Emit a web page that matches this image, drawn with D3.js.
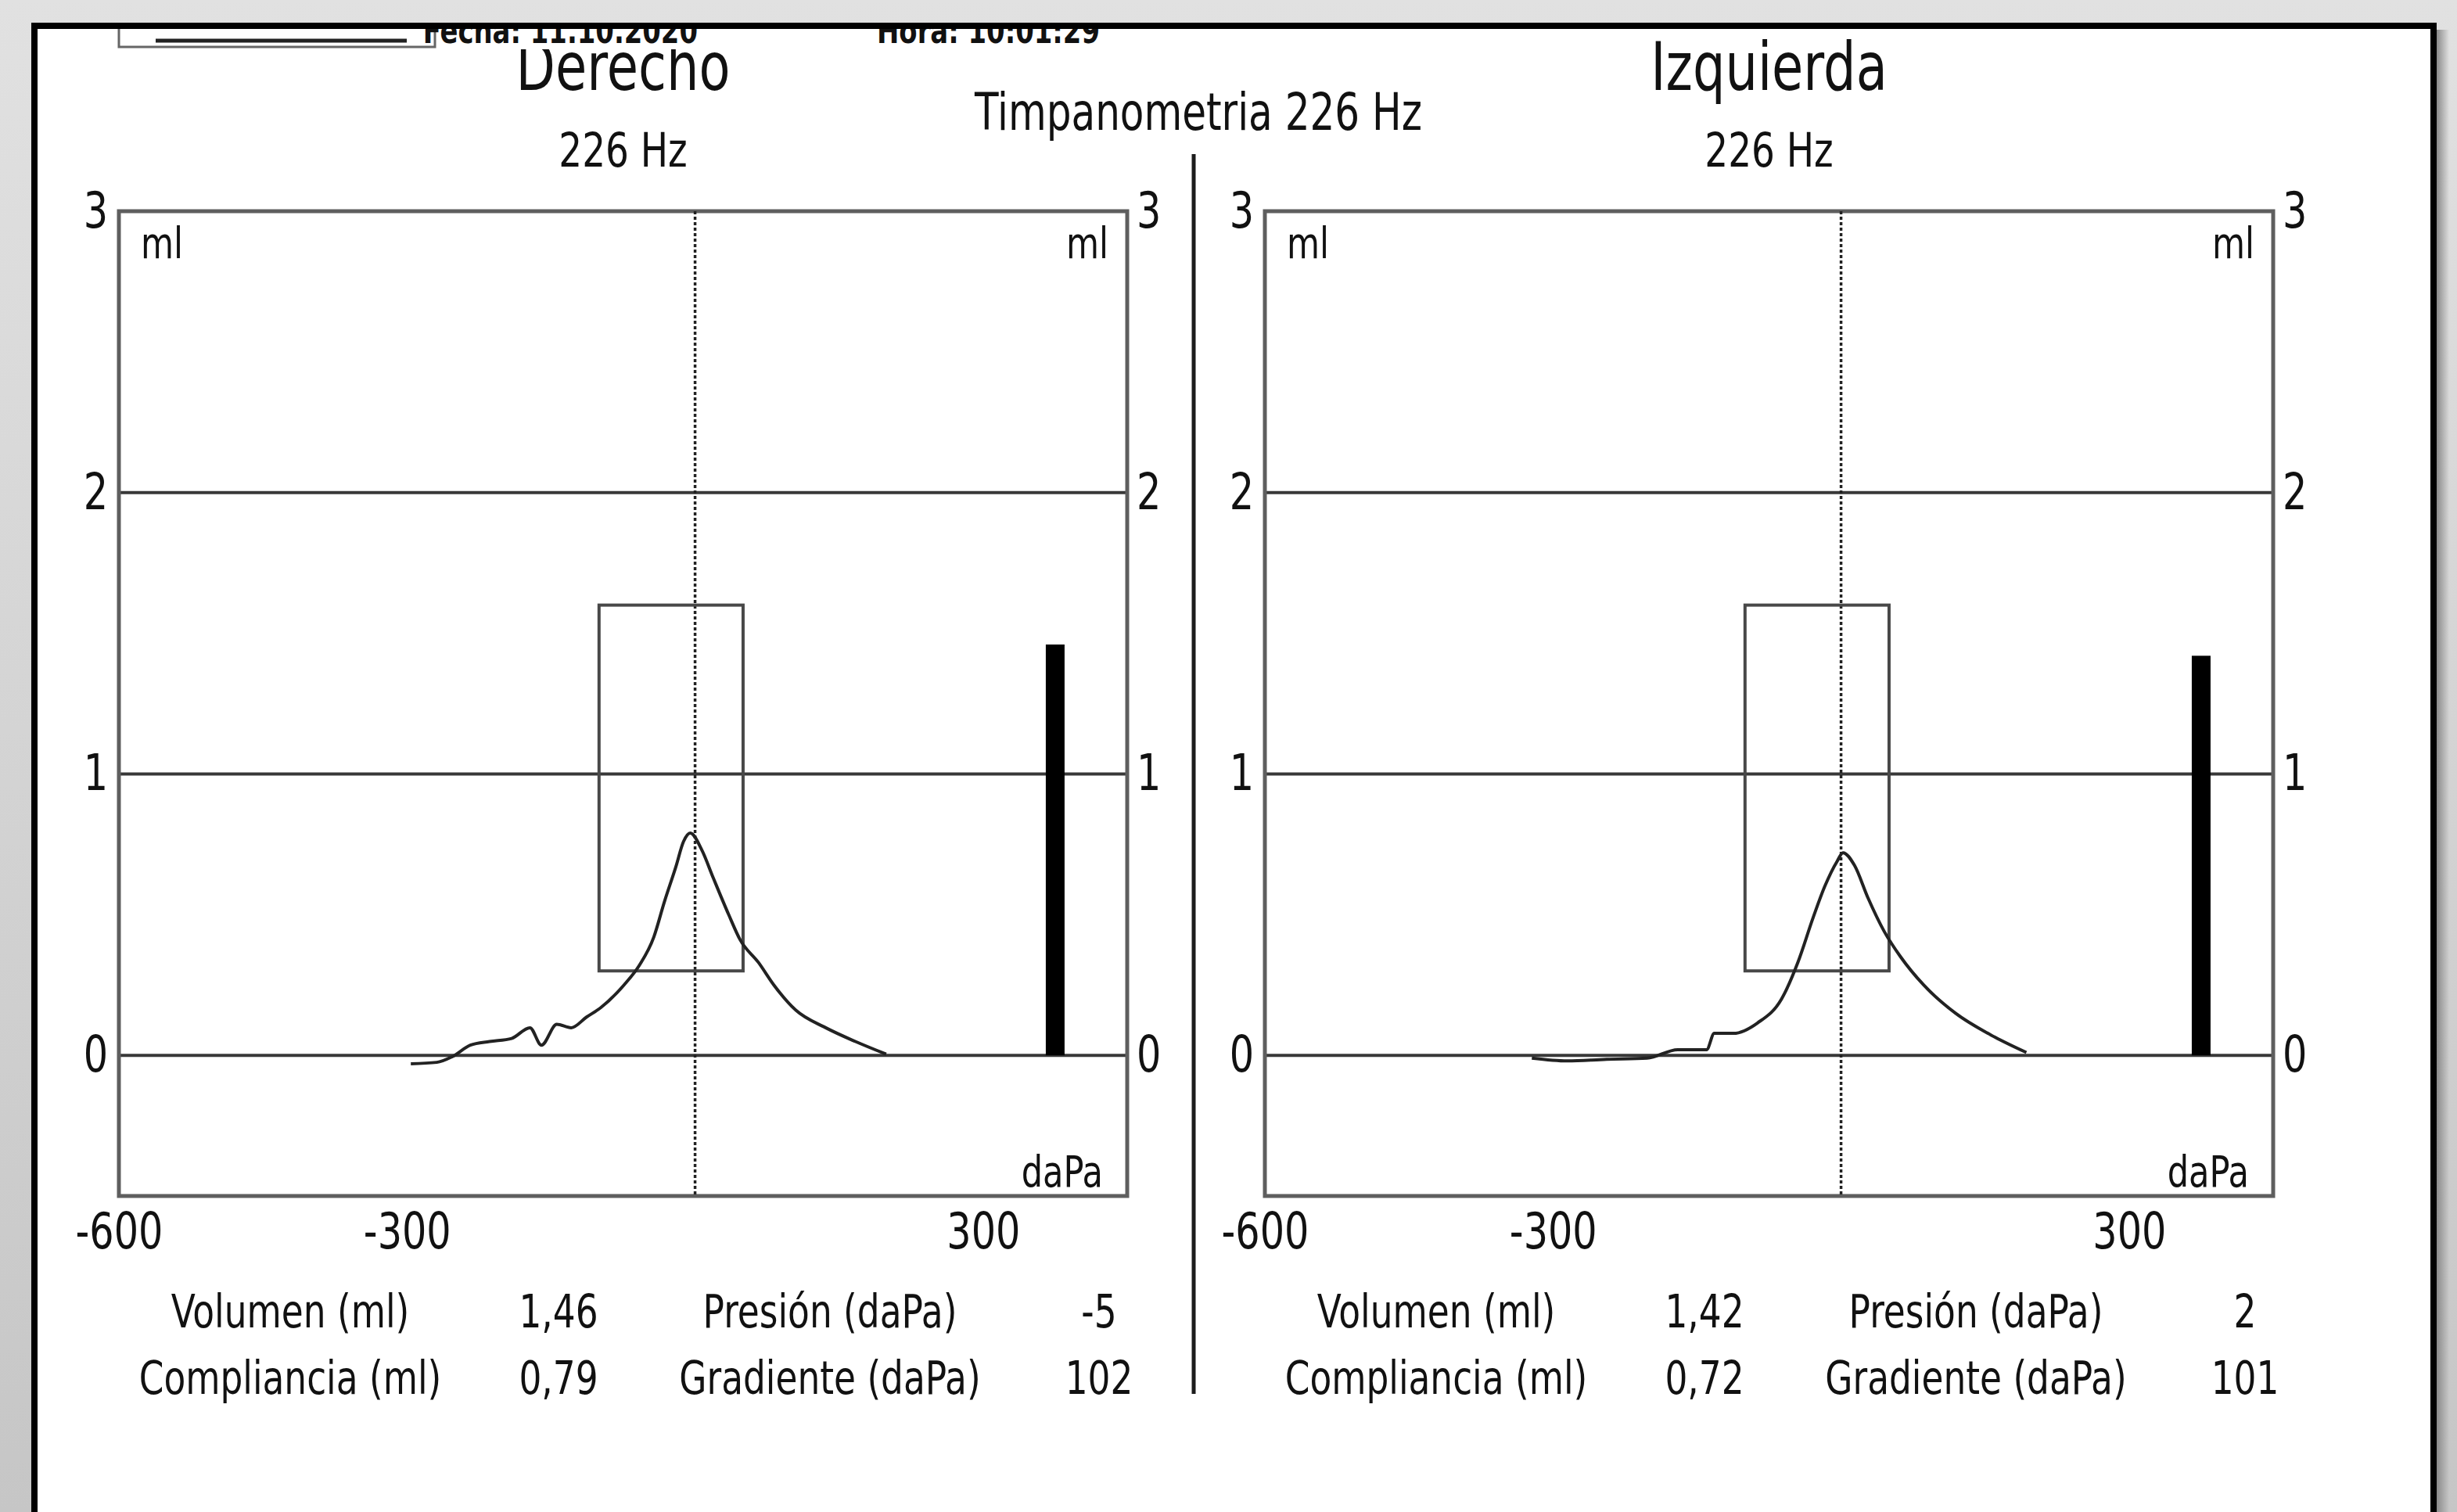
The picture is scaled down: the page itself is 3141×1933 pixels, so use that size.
<!DOCTYPE html>
<html>
<head>
<meta charset="utf-8">
<script src="https://cdn.jsdelivr.net/npm/d3@7"></script>
<style>
  html, body { margin: 0; padding: 0; background: #d8d8d8; }
  svg { display: block; }
  text { font-family: 'DejaVu Sans', Verdana, sans-serif; fill: #111; }
</style>
</head>
<body>
<svg id="chart"></svg>
<script>
// ears, left panel = Derecho, right panel = Izquierda
const ears = ['Derecho', 'Izquierda']
const probeTone = '226 Hz'
const reportTitle = 'Timpanometria 226 Hz'

// tympanogram traces (daPa, ml)
const derechoPressure = [-296, -269, -253, -234, -214, -191, -172, -160, -144, -129, -113, -98, -74, -58, -43, -32, -20, -12, -5, 7, 19, 35, 47, 66, 82, 105, 136, 167, 199]
const derechoCompliance = [-0.03, -0.025, -0.005, 0.036, 0.049, 0.06, 0.098, 0.036, 0.11, 0.098, 0.136, 0.17, 0.25, 0.32, 0.42, 0.545, 0.67, 0.76, 0.79, 0.73, 0.63, 0.5, 0.41, 0.33, 0.25, 0.16, 0.098, 0.049, 0.004]
const izquierdaPressure = [-322, -285, -244, -202, -170, -140, -132, -112, -87, -62, -45, -29, -17, -4, 2, 14, 28, 45, 62, 86, 119, 160, 193]
const izquierdaCompliance = [-0.01, -0.02, -0.014, -0.01, 0.02, 0.02, 0.078, 0.078, 0.115, 0.2, 0.33, 0.49, 0.6, 0.69, 0.72, 0.675, 0.56, 0.44, 0.35, 0.25, 0.15, 0.065, 0.01]

// results
const volume = [1.46, 1.42]
const peakCompliance = [0.79, 0.72]
const peakPressure = [-5, 2]
const gradient = [102, 101]

// normal range box
const normalPressure = [-100, 50]
const normalCompliance = [0.3, 1.6]

// axes
const pressureDomain = [-600, 450]
const complianceDomain = [-0.5, 3]
const xTickValues = [-600, -300, 300]
const yTickValues = [0, 1, 2, 3]
const gridValues = [0, 1, 2]

const statLabelsA = ['Volumen (ml)', 'Compliancia (ml)']
const statLabelsB = ['Presión (daPa)', 'Gradiente (daPa)']

const W = 3141
const H = 1933
const SX = 0.77 // scan text is squeezed horizontally

const svg = d3.select('#chart').attr('width', W).attr('height', H)

const defs = svg.append('defs')
const bg = defs.append('linearGradient').attr('id', 'bg').attr('x1', 0).attr('y1', 0).attr('x2', 0).attr('y2', 1)
bg.append('stop').attr('offset', '0%').attr('stop-color', '#e1e1e1')
bg.append('stop').attr('offset', '100%').attr('stop-color', '#c6c6c6')
const shade = defs.append('linearGradient').attr('id', 'shade').attr('x1', 0).attr('y1', 0).attr('x2', 1).attr('y2', 0)
shade.append('stop').attr('offset', '0%').attr('stop-color', '#8a8a8a')
shade.append('stop').attr('offset', '100%').attr('stop-color', '#8a8a8a').attr('stop-opacity', 0)

defs.append('clipPath').attr('id', 'pageClip')
  .append('rect').attr('x', 48).attr('y', 37).attr('width', 3059).attr('height', 2000)
defs.append('clipPath').attr('id', 'titleClip')
  .append('rect').attr('x', 0).attr('y', 63).attr('width', 1500).attr('height', 200)

svg.append('rect').attr('width', W).attr('height', H).attr('fill', 'url(#bg)')
svg.append('rect').attr('x', 3115).attr('y', 38).attr('width', 16).attr('height', H).attr('fill', 'url(#shade)')
svg.append('rect')
  .attr('x', 44).attr('y', 33).attr('width', 3067).attr('height', 2000)
  .attr('fill', '#fff').attr('stroke', '#000').attr('stroke-width', 8)

const label = (sel, str, x, y, size, anchor) => sel.append('text')
  .attr('transform', `translate(${x},${y}) scale(${SX},1)`)
  .attr('font-size', size)
  .attr('text-anchor', anchor || 'start')
  .text(str)

// header row, mostly cut off by the page edge
const header = svg.append('g').attr('clip-path', 'url(#pageClip)')
header.append('rect')
  .attr('x', 152).attr('y', 0).attr('width', 404).attr('height', 60)
  .attr('fill', 'none').attr('stroke', '#666').attr('stroke-width', 3)
header.append('line')
  .attr('x1', 199).attr('x2', 520).attr('y1', 52).attr('y2', 52)
  .attr('stroke', '#222').attr('stroke-width', 5)
label(header, 'Fecha: 11.10.2020', 892, 55, 44, 'end').attr('font-weight', 'bold')
label(header, 'Hora: 10:01:29', 1406, 55, 44, 'end').attr('font-weight', 'bold')

label(svg, reportTitle, 1532, 166, 65, 'middle')

// separator between ears
svg.append('line')
  .attr('x1', 1526).attr('x2', 1526).attr('y1', 197).attr('y2', 1782)
  .attr('stroke', '#1c1c1c').attr('stroke-width', 5)

const fmt = v => v.toFixed(2).replace('.', ',')

const panels = [
  { left: 152, pressure: derechoPressure, compliance: derechoCompliance },
  { left: 1617, pressure: izquierdaPressure, compliance: izquierdaCompliance },
]

const squeeze = sel => sel.selectAll('text').each(function () {
  const t = d3.select(this)
  const tx = +t.attr('x') || 0
  t.attr('x', tx / SX).attr('transform', `scale(${SX},1)`)
})
const axStyle = a => {
  a.select('.domain').remove()
  a.selectAll('line').remove()
  a.attr('font-size', null).attr('font-family', null)
  a.selectAll('text').attr('font-size', 64).attr('fill', '#111')
}

panels.forEach((p, i) => {
  const plotW = 1289
  const x = d3.scaleLinear().domain(pressureDomain).range([p.left, p.left + plotW])
  const y = d3.scaleLinear().domain(complianceDomain).range([1529, 270])
  const g = svg.append('g').attr('class', 'panel')
  const [x0, x1] = x.range()

  // grid
  g.selectAll('.grid')
    .data(gridValues)
    .enter()
    .append('line')
    .attr('class', 'grid')
    .attr('x1', x0).attr('x2', x1)
    .attr('y1', d => y(d)).attr('y2', d => y(d))
    .attr('stroke', '#383838').attr('stroke-width', 4)

  // frame
  g.append('rect')
    .attr('x', x0).attr('y', y(3))
    .attr('width', x1 - x0).attr('height', y(-0.5) - y(3))
    .attr('fill', 'none').attr('stroke', '#5e5e5e').attr('stroke-width', 5)

  // 0 daPa reference
  g.append('line')
    .attr('x1', x(0)).attr('x2', x(0))
    .attr('y1', y(3)).attr('y2', y(-0.5))
    .attr('stroke', '#222').attr('stroke-width', 3.5).attr('stroke-dasharray', '4,3')

  // normal range box
  g.append('rect')
    .attr('x', x(normalPressure[0])).attr('y', y(normalCompliance[1]))
    .attr('width', x(normalPressure[1]) - x(normalPressure[0]))
    .attr('height', y(normalCompliance[0]) - y(normalCompliance[1]))
    .attr('fill', 'none').attr('stroke', '#484848').attr('stroke-width', 4)

  // trace
  const pts = p.pressure.map((d, k) => [d, p.compliance[k]])
  const line = d3.line().x(d => x(d[0])).y(d => y(d[1])).curve(d3.curveMonotoneX)
  g.append('path')
    .datum(pts)
    .attr('d', line)
    .attr('fill', 'none').attr('stroke', '#222').attr('stroke-width', 4)

  // ear canal volume bar
  g.selectAll('.vol')
    .data([volume[i]])
    .enter()
    .append('rect')
    .attr('class', 'vol')
    .attr('x', x(375) - 12).attr('width', 24)
    .attr('y', d => y(d)).attr('height', d => y(0) - y(d))
    .attr('fill', '#000')

  // axes
  g.append('g')
    .attr('transform', `translate(${x0},0)`)
    .call(d3.axisLeft(y).tickValues(yTickValues).tickSize(0).tickPadding(14).tickFormat(d => String(d)))
    .call(axStyle)
    .call(squeeze)
  g.append('g')
    .attr('transform', `translate(${x1},0)`)
    .call(d3.axisRight(y).tickValues(yTickValues).tickSize(0).tickPadding(12).tickFormat(d => String(d)))
    .call(axStyle)
    .call(squeeze)
  g.append('g')
    .attr('transform', `translate(0,${y(-0.5)})`)
    .call(d3.axisBottom(x).tickValues(xTickValues).tickSize(0).tickPadding(22).tickFormat(d => String(d)))
    .call(axStyle)
    .call(squeeze)

  // units
  label(g, 'ml', x0 + 28, y(3) + 60, 56, 'start')
  label(g, 'ml', x1 - 24, y(3) + 60, 56, 'end')
  label(g, 'daPa', x1 - 31, y(-0.5) - 12, 56, 'end')

  // titles ("Derecho" is clipped at the top in the scan)
  const cx = (x0 + x1) / 2
  const titleHolder = i === 0 ? g.append('g').attr('clip-path', 'url(#titleClip)') : g
  label(titleHolder, ears[i], cx, 115, 85, 'middle')
  label(g, probeTone, cx, 213, 61, 'middle')

  // results table
  const rowY = [1697, 1782]
  const cols = [
    statLabelsA,
    [fmt(volume[i]), fmt(peakCompliance[i])],
    statLabelsB,
    [String(peakPressure[i]), String(gradient[i])],
  ]
  cols.forEach((col, c) => {
    const cxc = x0 + [219, 562, 909, 1253][c]
    col.forEach((s, r) => label(g, s, cxc, rowY[r], 59, 'middle'))
  })
})
</script>
</body>
</html>
